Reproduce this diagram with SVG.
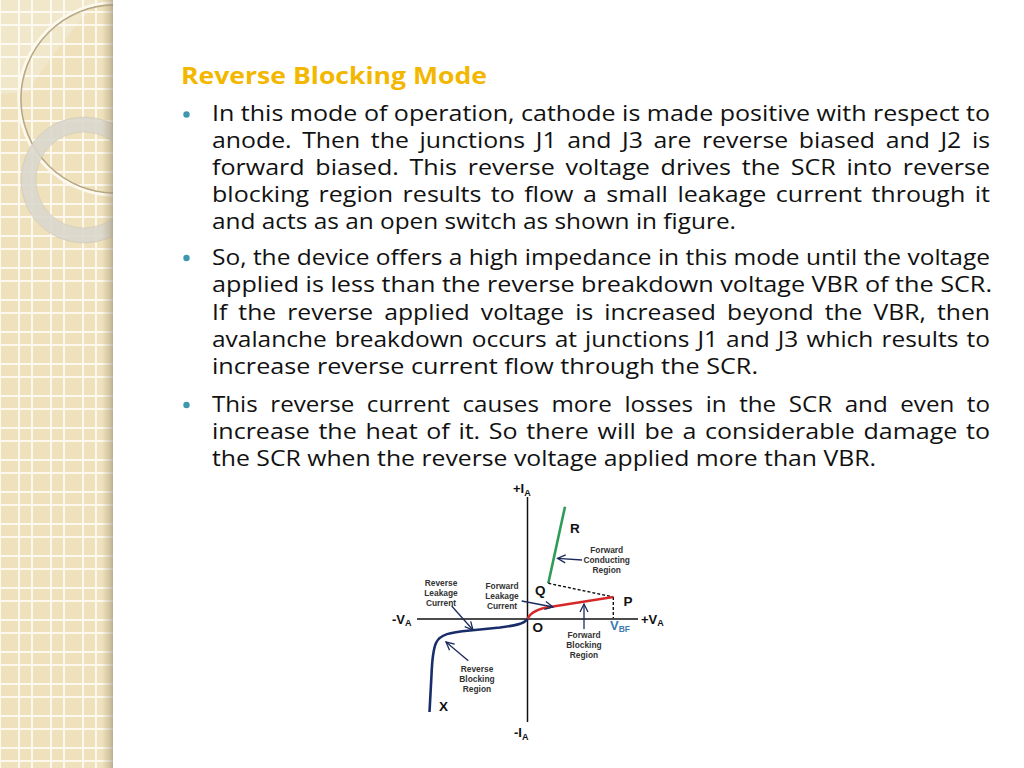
<svg xmlns="http://www.w3.org/2000/svg" width="1024" height="768" viewBox="0 0 1024 768">
<style>
.body{font-family:"Open Sans",Lato,"Liberation Sans",sans-serif;font-size:21px;fill:#111;}
.title{font-family:"Open Sans",Lato,"Liberation Sans",sans-serif;font-size:24px;font-weight:bold;fill:#f3b700;}
.bul{fill:#3e97ae;}
.ax{font-family:"Liberation Sans",Arial,sans-serif;font-weight:bold;font-size:13px;fill:#111;}
.pt{font-family:"Liberation Sans",Arial,sans-serif;font-weight:bold;font-size:13.5px;fill:#111;}
.ann{font-family:"Liberation Sans",Arial,sans-serif;font-weight:bold;font-size:8.4px;fill:#333;text-anchor:middle;}
.axis{stroke:#111;stroke-width:1.5;fill:none;}
.arr{stroke:#1c2b5c;stroke-width:1.3;fill:none;marker-end:url(#ah);}
.dash{stroke:#111;stroke-width:1.4;stroke-dasharray:3,2;fill:none;}
</style>
<defs>
<pattern id="grid" width="32" height="32" patternUnits="userSpaceOnUse">
<rect width="32" height="32" fill="#eee1bc"/>
<rect x="0" y="0" width="1" height="32" fill="#fcf8ee"/>
<rect x="31" y="0" width="1" height="32" fill="#fcf8ee"/>
<rect x="18" y="0" width="2" height="32" fill="#fcf8ee"/>
<rect x="0" y="11" width="32" height="2" fill="#fcf8ee"/>
<rect x="0" y="24" width="32" height="2" fill="#fcf8ee"/>
</pattern>
<linearGradient id="edge" x1="0" y1="0" x2="1" y2="0">
<stop offset="0" stop-color="#a89a78" stop-opacity="0"/>
<stop offset="0.75" stop-color="#a89a78" stop-opacity="0.45"/>
<stop offset="1" stop-color="#8a8070" stop-opacity="0.55"/>
</linearGradient>
<clipPath id="bandclip"><rect x="0" y="0" width="113" height="768"/></clipPath>
<marker id="ah" viewBox="0 0 10 10" refX="9" refY="5" markerWidth="10" markerHeight="10" markerUnits="userSpaceOnUse" orient="auto">
<path d="M1,1 L9,5 L1,9" fill="none" stroke="#1c2b5c" stroke-width="1.3"/>
</marker>
</defs>
<rect width="1024" height="768" fill="#ffffff"/>
<g id="band" clip-path="url(#bandclip)">
<rect x="0" y="0" width="113" height="768" fill="url(#grid)"/>
<path d="M0,0 L100,0 Q60,40 28,92 L0,94 Z" fill="#ffffff" opacity="0.22"/>
<circle cx="115" cy="99" r="94.3" fill="none" stroke="#b8a985" stroke-width="2"/>
<circle cx="115" cy="99" r="96.3" fill="none" stroke="#fdf9ee" stroke-width="2.8"/>
<circle cx="84" cy="180" r="55.5" fill="none" stroke="#d9d6cd" stroke-width="15" opacity="0.88"/>
<circle cx="84" cy="180" r="63" fill="none" stroke="#c9c1ad" stroke-width="0.8" opacity="0.6"/>
<circle cx="84" cy="180" r="48" fill="none" stroke="#c9c1ad" stroke-width="0.8" opacity="0.6"/>
<rect x="102" y="0" width="11" height="768" fill="url(#edge)"/>
</g>
<g id="title">
<text class="title" x="181" y="84" textLength="306" lengthAdjust="spacingAndGlyphs">Reverse Blocking Mode</text>
</g>
<g id="bullets">
<circle class="bul" cx="186.5" cy="114.5" r="3.2"/>
<circle class="bul" cx="186.5" cy="258" r="3.2"/>
<circle class="bul" cx="186.5" cy="405" r="3.2"/>
</g>
<g id="para1">
<text class="body" x="212" y="121" textLength="778" lengthAdjust="spacingAndGlyphs">In this mode of operation, cathode is made positive with respect to</text>
<text class="body" x="212" y="148" textLength="778" lengthAdjust="spacingAndGlyphs" word-spacing="3.5">anode. Then the junctions J1 and J3 are reverse biased and J2 is</text>
<text class="body" x="212" y="175" textLength="778" lengthAdjust="spacingAndGlyphs" word-spacing="3.5">forward biased. This reverse voltage drives the SCR into reverse</text>
<text class="body" x="212" y="202" textLength="778" lengthAdjust="spacingAndGlyphs" word-spacing="2.5">blocking region results to flow a small leakage current through it</text>
<text class="body" x="212" y="229" textLength="524" lengthAdjust="spacingAndGlyphs">and acts as an open switch as shown in figure.</text>
</g>
<g id="para2">
<text class="body" x="212" y="265" textLength="778" lengthAdjust="spacingAndGlyphs">So, the device offers a high impedance in this mode until the voltage</text>
<text class="body" x="212" y="292" textLength="780" lengthAdjust="spacingAndGlyphs">applied is less than the reverse breakdown voltage VBR of the SCR.</text>
<text class="body" x="212" y="320" textLength="778" lengthAdjust="spacingAndGlyphs" word-spacing="4">If the reverse applied voltage is increased beyond the VBR, then</text>
<text class="body" x="212" y="347" textLength="778" lengthAdjust="spacingAndGlyphs" word-spacing="1.5">avalanche breakdown occurs at junctions J1 and J3 which results to</text>
<text class="body" x="212" y="374" textLength="546" lengthAdjust="spacingAndGlyphs">increase reverse current flow through the SCR.</text>
</g>
<g id="para3">
<text class="body" x="212" y="412" textLength="778" lengthAdjust="spacingAndGlyphs" word-spacing="5.5">This reverse current causes more losses in the SCR and even to</text>
<text class="body" x="212" y="439" textLength="778" lengthAdjust="spacingAndGlyphs" word-spacing="1.8">increase the heat of it. So there will be a considerable damage to</text>
<text class="body" x="212" y="466" textLength="664" lengthAdjust="spacingAndGlyphs">the SCR when the reverse voltage applied more than VBR.</text>
</g>
<g id="graph">
<g id="axes">
<path class="axis" d="M527.5,497 L527.5,722"/>
<path class="axis" d="M417,619 L638,619"/>
</g>
<g id="connectors">
<path d="M548.3,583.3 L565,506.7" stroke="#2f9b59" stroke-width="2.6" fill="none"/>
<path class="dash" d="M548.3,583.3 L613.3,597"/>
<path class="dash" d="M613.3,597 L613.3,618"/>
<path d="M527.5,619 C531,611 540,608 553,606.5 L613.3,597" stroke="#d62828" stroke-width="2.3" fill="none"/>
<path d="M527.5,619 C524,624 515,625.5 500,627.5 L470,630.5 C450,632.5 440,634 436,643 C433,650 432,662 431.5,675 L429.5,712" stroke="#1a2d6b" stroke-width="2.6" fill="none"/>
<path class="arr" d="M582,560 L557.5,558.3"/>
<path class="arr" d="M451.7,606 L473,630"/>
<path class="arr" d="M521.7,601 L553,607"/>
<path class="arr" d="M584,629 L584,604"/>
<path class="arr" d="M468.3,660.7 L446,642"/>
</g>
<g id="labels">
<text class="ax" x="513" y="493">+I<tspan font-size="9" dy="3">A</tspan></text>
<text class="ax" x="514" y="737">-I<tspan font-size="9" dy="3">A</tspan></text>
<text class="ax" x="392" y="624">-V<tspan font-size="9" dy="2">A</tspan></text>
<text class="ax" x="641" y="624">+V<tspan font-size="9" dy="2">A</tspan></text>
<text class="pt" x="532.5" y="632">O</text>
<text class="pt" x="570" y="533">R</text>
<text class="pt" x="535" y="595">Q</text>
<text class="pt" x="623.5" y="605.5">P</text>
<text class="pt" x="439" y="711">X</text>
<text class="ax" x="610" y="630" style="fill:#3d7bb0">V<tspan font-size="8.5" dy="2">BF</tspan></text>
</g>
<g id="ann-fcr">
<text class="ann" x="606.7" y="552.5">Forward</text>
<text class="ann" x="606.7" y="562.5">Conducting</text>
<text class="ann" x="606.7" y="572.5">Region</text>
</g>
<g id="ann-rlc">
<text class="ann" x="441" y="586">Reverse</text>
<text class="ann" x="441" y="596">Leakage</text>
<text class="ann" x="441" y="606">Current</text>
</g>
<g id="ann-flc">
<text class="ann" x="502" y="589">Forward</text>
<text class="ann" x="502" y="599">Leakage</text>
<text class="ann" x="502" y="609">Current</text>
</g>
<g id="ann-fbr">
<text class="ann" x="584" y="637.5">Forward</text>
<text class="ann" x="584" y="647.5">Blocking</text>
<text class="ann" x="584" y="657.5">Region</text>
</g>
<g id="ann-rbr">
<text class="ann" x="477" y="672">Reverse</text>
<text class="ann" x="477" y="682">Blocking</text>
<text class="ann" x="477" y="692">Region</text>
</g>
</g>
</svg>
